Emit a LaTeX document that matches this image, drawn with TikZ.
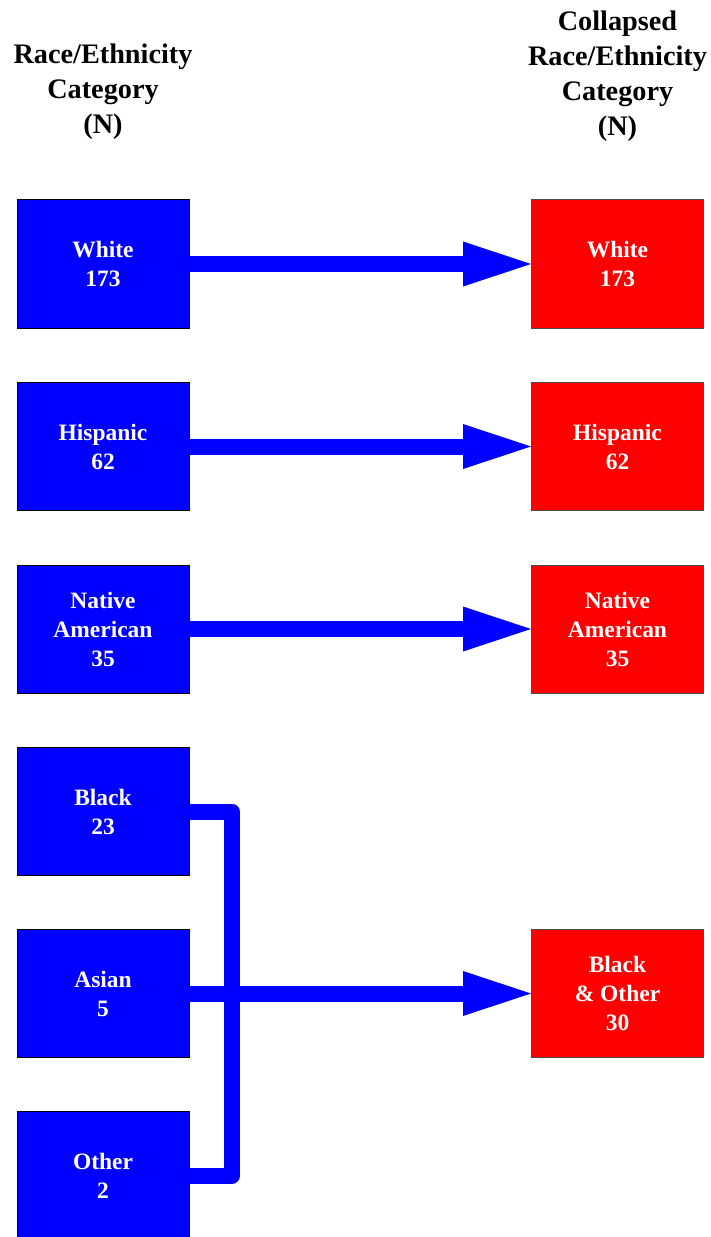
\documentclass[tikz,border=0pt]{standalone}
\usepackage{fontspec}
\setmainfont{Liberation Serif}
\usetikzlibrary{calc}
\definecolor{srcblue}{RGB}{0,0,255}
\definecolor{dstred}{RGB}{255,0,0}
\begin{document}
\begin{tikzpicture}[x=0.75pt,y=-0.75pt,
  catbox/.style={line width=0.75pt, minimum width=129pt, minimum height=96pt,
    inner sep=0pt, text=white, align=center,
    font=\bfseries\fontsize{17.6}{21.75}\selectfont},
  srcbox/.style={catbox, draw=black, fill=srcblue},
  dstbox/.style={catbox, draw=black!70, fill=dstred},
  colhead/.style={align=center, font=\bfseries\fontsize{21.2}{26.2}\selectfont},
  flow/.style={draw=srcblue, line width=12pt},
  flowhead/.style={fill=srcblue},
]
\useasboundingbox (0,0) rectangle (710,1237);

% column headings
\node[colhead] (hsrc) at (103,91.5) {Race/Ethnicity\\Category\\(N)};
\node[colhead] (hdst) at (617.5,76) {Collapsed\\Race/Ethnicity\\Category\\(N)};

% original categories
\node[srcbox] (swht) at (103,264)    {White\\173};
\node[srcbox] (shis) at (103,446.5)  {Hispanic\\62};
\node[srcbox] (snat) at (103,629)    {Native\\American\\35};
\node[srcbox] (sblk) at (103,811.5)  {Black\\23};
\node[srcbox] (sasn) at (103,993.5)  {Asian\\5};
\node[srcbox] (soth) at (103,1175.5) {Other\\2};

% collapsed categories
\node[dstbox] (dwht) at (617.5,264)   {White\\173};
\node[dstbox] (dhis) at (617.5,446.5) {Hispanic\\62};
\node[dstbox] (dnat) at (617.5,629)   {Native\\American\\35};
\node[dstbox] (doth) at (617.5,993.5) {Black\\\& Other\\30};

% Black and Other feed into the Asian line
\coordinate (spine) at (232,993.5);
\draw[flow, line join=round] (sblk.east) -| (spine) |- (soth.east);

% mapping arrows: thick shaft plus a triangular head touching the target box
\foreach \s/\d in {swht/dwht, shis/dhis, snat/dnat, sasn/doth} {
  \draw[flow] (\s.east) -- ($(\d.west)+(-66,0)$);
  \fill[flowhead] (\d.west) -- ++(-68,-22.5) -- ++(0,45) -- cycle;
}
\end{tikzpicture}
\end{document}
